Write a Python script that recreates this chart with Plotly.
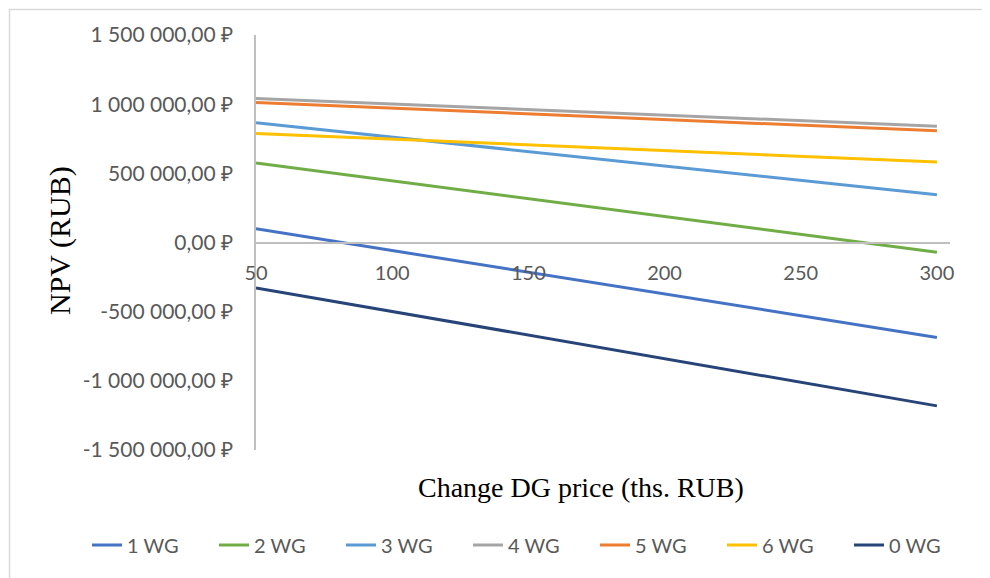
import plotly.graph_objects as go

# ---- data ----
x_prices = [50, 100, 150, 200, 250, 300]
series_names = ["1 WG", "2 WG", "3 WG", "4 WG", "5 WG", "6 WG", "0 WG"]
wg1 = [99000, -58000, -215000, -372000, -529000, -686000]
wg2 = [575000, 446000, 317000, 188000, 59000, -70000]
wg3 = [865000, 761000, 657000, 554000, 450000, 346000]
wg4 = [1041000, 1001000, 961000, 921000, 881000, 841000]
wg5 = [1012000, 971000, 930000, 889000, 848000, 807000]
wg6 = [788000, 747000, 706000, 664000, 623000, 582000]
wg0 = [-328000, -499000, -669000, -840000, -1010000, -1181000]
series_values = [wg1, wg2, wg3, wg4, wg5, wg6, wg0]

y_tick_values = [1500000, 1000000, 500000, 0, -500000, -1000000, -1500000]
y_tick_labels = ["1 500 000,00 ₽", "1 000 000,00 ₽", "500 000,00 ₽", "0,00 ₽",
                 "-500 000,00 ₽", "-1 000 000,00 ₽", "-1 500 000,00 ₽"]
x_tick_values = [50, 100, 150, 200, 250, 300]
x_tick_labels = ["50", "100", "150", "200", "250", "300"]

colors = ["#4472C4", "#70AD47", "#5B9BD5", "#A5A5A5", "#ED7D31", "#FFC000", "#264478"]

fig = go.Figure()
for name, vals, col in zip(series_names, series_values, colors):
    fig.add_trace(go.Scatter(x=x_prices, y=vals, mode="lines", name=name,
                             line=dict(color=col, width=3)))

# page has an 8px body margin; work in window pixels and subtract it
OFF = 8
FW, FH = 990 - OFF, 578 - OFF
L, R, T, B = 256 - OFF, 950 - OFF, 35 - OFF, 450 - OFF
W, H = R - L, B - T
def px(xp):
    return (xp - OFF - L) / W
def py(yp):
    return (B - (yp - OFF)) / H

fig.update_layout(
    width=FW, height=FH,
    margin=dict(l=L, r=FW - R, t=T, b=FH - B, pad=0),
    paper_bgcolor="white", plot_bgcolor="white",
    font=dict(family="Lato, Carlito, Calibri, sans-serif", size=20, color="#595959"),
    xaxis=dict(range=[50, 304.8], tickvals=x_tick_values, ticktext=x_tick_labels,
               showgrid=False, zeroline=False, showline=True, linecolor="#BFBFBF",
               linewidth=1.5, anchor="free", position=0.5,
               ticks="outside", ticklen=13, tickcolor="rgba(0,0,0,0)",
               tickfont=dict(size=20, color="#595959")),
    yaxis=dict(range=[-1500000, 1500000], tickvals=y_tick_values, ticktext=y_tick_labels,
               showgrid=False, zeroline=False, showline=True, linecolor="#BFBFBF",
               linewidth=1.5, ticks="outside", ticklen=17, tickcolor="rgba(0,0,0,0)",
               tickfont=dict(size=21, color="#595959")),
    legend=dict(orientation="h", x=px(87), xanchor="left", y=py(545), yanchor="middle",
                font=dict(size=20, color="#595959"), bgcolor="rgba(0,0,0,0)",
                entrywidth=82, entrywidthmode="pixels", itemwidth=30),
    showlegend=True,
)

fig.add_annotation(text="Change DG price (ths. RUB)", xref="paper", yref="paper",
                   x=px(581), y=py(487), xanchor="center", yanchor="middle",
                   showarrow=False,
                   font=dict(family="Liberation Serif, Times New Roman, serif", size=28, color="black"))
fig.add_annotation(text="NPV (RUB)", xref="paper", yref="paper",
                   x=px(60), y=py(241), xanchor="center", yanchor="middle",
                   textangle=-90, showarrow=False,
                   font=dict(family="Liberation Serif, Times New Roman, serif", size=30, color="black"))

# chart border (only top/left visible in the frame)
fig.add_shape(type="rect", xref="paper", yref="paper",
              x0=px(9.5), x1=px(1000), y0=py(590), y1=py(9.5),
              line=dict(color="#D9D9D9", width=1.5), fillcolor="rgba(0,0,0,0)", layer="below")

fig.write_html("out.html")
